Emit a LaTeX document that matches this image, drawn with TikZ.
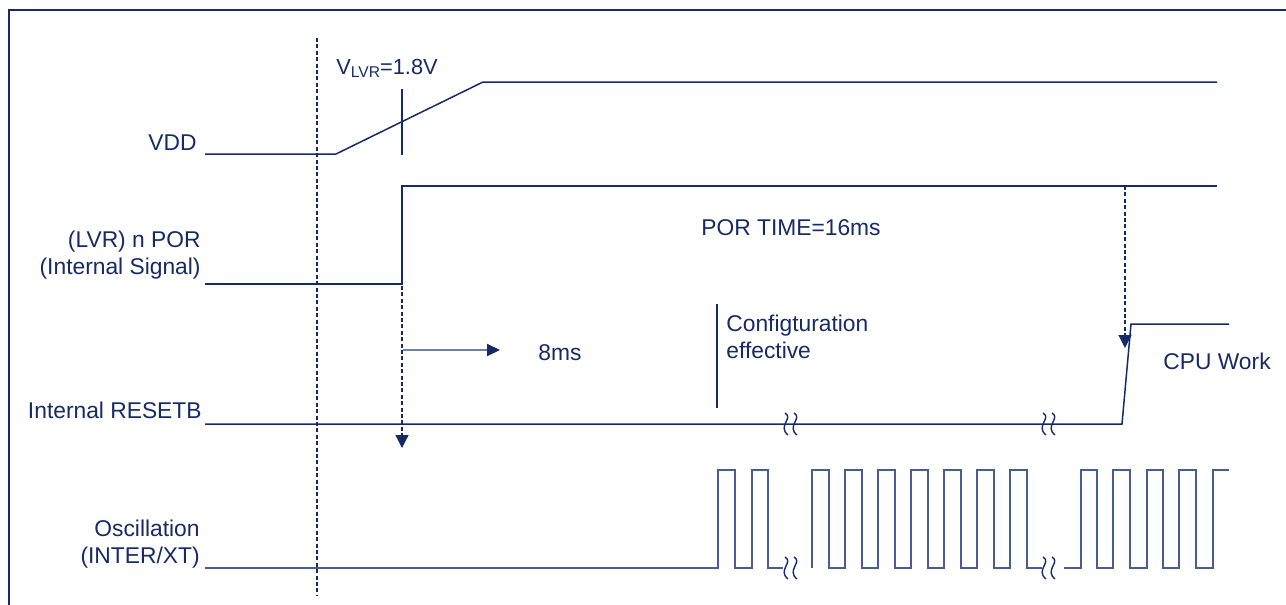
\documentclass[tikz,border=0pt]{standalone}
\usepackage{fontspec}
\setmainfont{Liberation Sans}
\usetikzlibrary{arrows.meta}
\definecolor{navy}{RGB}{22,42,104}
\definecolor{osc}{RGB}{70,94,148}
\definecolor{arrowgray}{RGB}{112,130,170}
\tikzset{
  sig/.style={draw=navy,line width=0.75pt},
  oscsig/.style={draw=osc,line width=0.75pt},
  dashline/.style={draw=navy,line width=0.6pt,dash pattern=on 2pt off 1.2pt},
  lbl/.style={text=navy,font=\fontsize{11.4}{13.5}\selectfont,inner sep=0pt,align=right},
  txt/.style={text=navy,font=\fontsize{11.4}{13.5}\selectfont,inner sep=0pt,align=left},
  tri/.style={-{Triangle[length=6.5pt,width=6.5pt]}},
  squig/.style={draw=navy,line width=0.7pt}
}
\begin{document}
\begin{tikzpicture}[x=0.5pt,y=-0.5pt]
\useasboundingbox (0,0) rectangle (1286,605);
% frame
\draw[navy,line width=1pt] (9,605) -- (9,10) -- (1286,10);
% reference dashed line
\coordinate (dtop) at (317,38);
\coordinate (dbot) at (317,595);
\draw[dashline] (dtop) -- (dbot);

% labels (base = last line baseline)
\node[lbl,anchor=base east] (lvdd) at (197,150) {VDD};
\node[lbl,anchor=base east] (lpor) at (201,274) {(LVR) n POR\\(Internal Signal)};
\node[lbl,anchor=base east] (lrst) at (202,418) {Internal RESETB};
\node[lbl,anchor=base east] (losc) at (200,563) {Oscillation\\(INTER/XT)};

% VDD
\draw[sig] (205,154) -- (336,154) -- (483,82) -- (1217,82);
\coordinate (tickT) at (402,89);
\coordinate (tickB) at (402,155);
\draw[sig] (tickT) -- (tickB);
\node[text=navy,font=\fontsize{10.9}{13}\selectfont,inner sep=0pt,anchor=base west] (vlvr) at (336,75) {V\raisebox{-1.2pt}{\fontsize{7.8}{8}\selectfont LVR}=1.8V};

% nPOR
\draw[sig] (205,284) -- (402,284) -- (402,186) -- (1217,186);
\node[txt,anchor=base] (portime) at (791,235) {POR TIME=16ms};
\coordinate (porA) at (402,286);
\coordinate (porB) at (402,448);
\draw[dashline] (porA) -- (402,436);
\draw[navy,tri,line width=0.6pt] (402,434) -- (porB);
\coordinate (por2A) at (1125,186);
\coordinate (por2B) at (1125,348);
\draw[dashline] (por2A) -- (1125,336);
\draw[navy,tri,line width=0.6pt] (1125,334) -- (por2B);

% 8ms arrow
\coordinate (msA) at (403,350);
\coordinate (msB) at (500,350);
\draw[arrowgray,line width=1pt,-{Triangle[length=6.5pt,width=6pt,color=navy]}] (msA) -- (msB);
\node[txt,anchor=base west] (ms) at (538,360) {8ms};

% configuration
\coordinate (cfgT) at (717,304);
\coordinate (cfgB) at (717,408);
\draw[navy,line width=1pt] (cfgT) -- (cfgB);
\node[txt,anchor=base west] (cfg) at (726,358) {Configturation\\effective};

% RESETB
\draw[sig] (205,424) -- (1122,424) -- (1131,324) -- (1229,324);
\node[txt,anchor=base west] (cpu) at (1163,369) {CPU Work};

% break marks
\foreach \bx/\by in {791/424,1049/424,791/568,1049/568}{
  \foreach \dx in {-4,5}{
    \draw[squig] (\bx+\dx-2,\by-11) .. controls (\bx+\dx+7,\by-6) and (\bx+\dx-10,\by+2) .. (\bx+\dx+1,\by+11);
  }
}

% oscillation
\draw[oscsig] (205,568) -- (718,568) -- (718,470) -- (735,470) -- (735,568) -- (752,568) -- (752,470) -- (768,470) -- (768,568) -- (783,568);
\draw[oscsig] (812,568) -- (812,470) -- (829,470) -- (829,568) -- (845,568) -- (845,470) -- (862,470) -- (862,568) -- (878,568) -- (878,470) -- (895,470) -- (895,568) -- (911,568) -- (911,470) -- (928,470) -- (928,568) -- (944,568) -- (944,470) -- (961,470) -- (961,568) -- (977,568) -- (977,470) -- (994,470) -- (994,568) -- (1010,568) -- (1010,470) -- (1027,470) -- (1027,568) -- (1042,568);
\draw[oscsig] (1064,568) -- (1081,568) -- (1081,470) -- (1097,470) -- (1097,568) -- (1113,568) -- (1113,470) -- (1130,470) -- (1130,568) -- (1147,568) -- (1147,470) -- (1163,470) -- (1163,568) -- (1179,568) -- (1179,470) -- (1196,470) -- (1196,568) -- (1213,568) -- (1213,470) -- (1229,470);
\end{tikzpicture}
\end{document}
